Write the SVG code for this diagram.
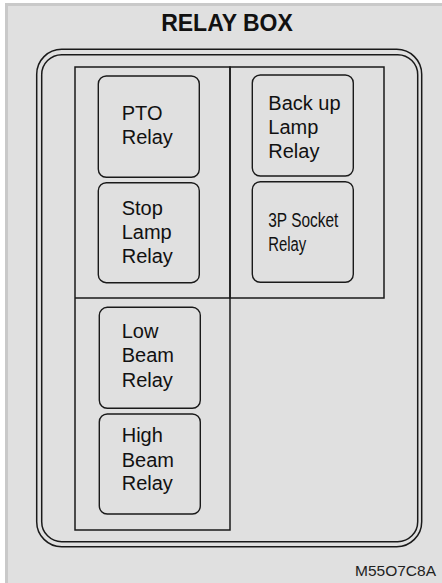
<svg xmlns="http://www.w3.org/2000/svg" width="442" height="583" viewBox="0 0 442 583">
<style>
.ln{fill:none;stroke:#1a1a1a;stroke-width:1.5}
.relay{fill:none;stroke:#1a1a1a;stroke-width:1.4}
.t{font-family:"Liberation Sans",Arial,sans-serif;font-size:20px;fill:#111}
</style>
<rect x="0" y="0" width="442" height="583" fill="#ffffff"/>
<rect x="5" y="3" width="440" height="583" fill="#c9c9c9"/>
<rect x="8" y="6" width="437" height="580" fill="#e0e0e0"/>
<text x="227" y="31" text-anchor="middle" font-family="Liberation Sans,Arial,sans-serif" font-weight="bold" font-size="23" fill="#111">RELAY BOX</text>
<g id="housing">
<rect class="ln" x="36.7" y="49.3" width="385" height="497.4" rx="25" ry="25"/>
<rect class="ln" x="41.7" y="54.7" width="376" height="487" rx="20" ry="20"/>
</g>
<g id="grid">
<rect class="ln" x="75" y="67" width="155" height="463"/>
<rect class="ln" x="230" y="67" width="154" height="231"/>
<line class="ln" x1="75" y1="298" x2="230" y2="298"/>
</g>
<g id="pto">
<rect class="relay" x="98.3" y="76" width="101" height="101.3" rx="8"/>
<text class="t" x="121.7" y="120">PTO</text>
<text class="t" x="121.7" y="144">Relay</text>
</g>
<g id="stop">
<rect class="relay" x="98.3" y="182.7" width="101" height="100" rx="8"/>
<text class="t" x="121.7" y="215">Stop</text>
<text class="t" x="121.7" y="239.3">Lamp</text>
<text class="t" x="121.7" y="263.3">Relay</text>
</g>
<g id="backup">
<rect class="relay" x="252.3" y="75" width="101" height="101" rx="8"/>
<text class="t" x="268.3" y="110">Back up</text>
<text class="t" x="268.3" y="134">Lamp</text>
<text class="t" x="268.3" y="158">Relay</text>
</g>
<g id="socket">
<rect class="relay" x="252.3" y="181.7" width="101" height="100.6" rx="8"/>
<text class="t" x="268.3" y="226.7" font-size="18" textLength="70" lengthAdjust="spacingAndGlyphs">3P Socket</text>
<text class="t" x="268.3" y="250.7" font-size="18" textLength="38" lengthAdjust="spacingAndGlyphs">Relay</text>
</g>
<g id="lowbeam">
<rect class="relay" x="99.3" y="307.3" width="101" height="101" rx="8"/>
<text class="t" x="121.7" y="337.7">Low</text>
<text class="t" x="121.7" y="362.3">Beam</text>
<text class="t" x="121.7" y="386.7">Relay</text>
</g>
<g id="highbeam">
<rect class="relay" x="99.3" y="414" width="101" height="100" rx="8"/>
<text class="t" x="121.7" y="442.3">High</text>
<text class="t" x="121.7" y="466.7">Beam</text>
<text class="t" x="121.7" y="490">Relay</text>
</g>
<g id="connectors"></g>
<text x="436" y="576" text-anchor="end" font-family="Liberation Sans,Arial,sans-serif" font-size="15.5" fill="#222">M55O7C8A</text>
</svg>
